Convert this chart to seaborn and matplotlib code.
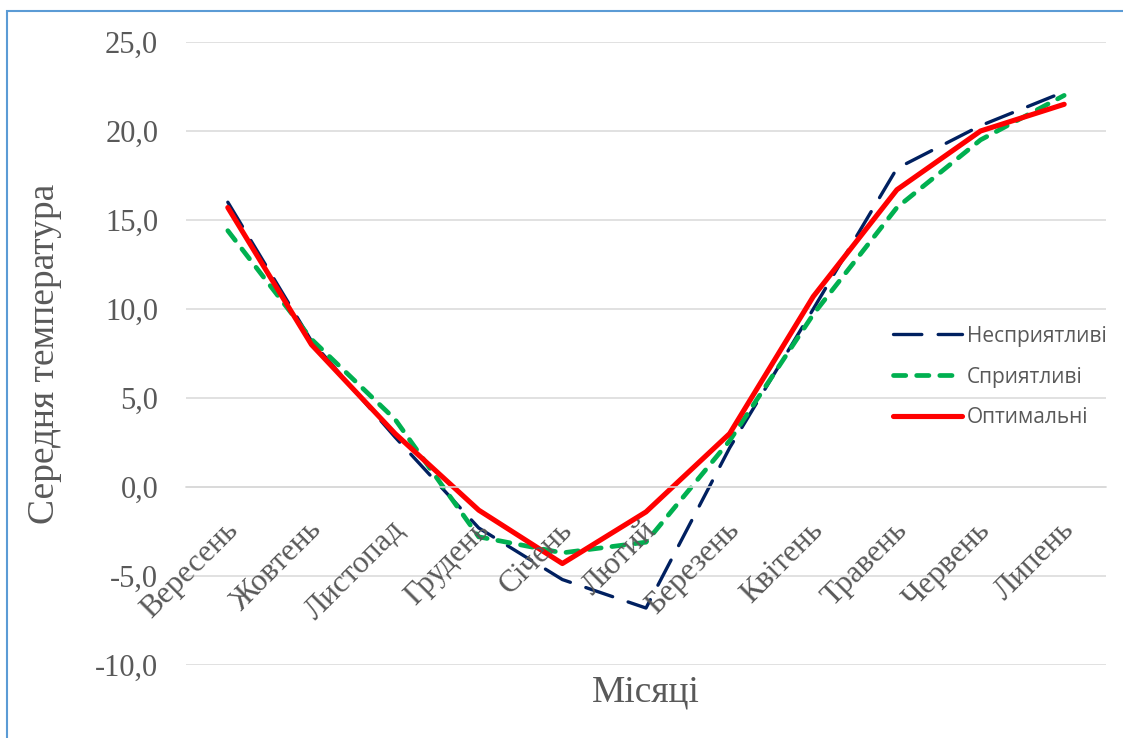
import numpy as np
import pandas as pd
import matplotlib
matplotlib.use("Agg")
import matplotlib.pyplot as plt
import matplotlib.transforms as mtransforms
from matplotlib.patches import Rectangle
from matplotlib.ticker import FixedLocator, FuncFormatter
import seaborn as sns

# Monthly mean temperature for three kinds of years
months = ["Вересень", "Жовтень", "Листопад", "Грудень", "Січень", "Лютий",
          "Березень", "Квітень", "Травень", "Червень", "Липень"]
unfavorable = [16.0, 8.2, 2.8, -2.3, -5.2, -6.8, 2.2, 10.0, 17.9, 20.3, 22.2]
favorable = [14.4, 8.3, 3.8, -2.8, -3.7, -3.1, 2.6, 9.7, 15.7, 19.5, 22.0]
optimal = [15.7, 8.0, 3.0, -1.3, -4.3, -1.4, 3.0, 10.7, 16.7, 20.0, 21.5]
series_names = ["Несприятливі", "Сприятливі", "Оптимальні"]
y_ticks = [-10, -5, 0, 5, 10, 15, 20, 25]

sns.set_theme(style="white")
plt.rcParams["font.family"] = ["Liberation Serif", "DejaVu Serif"]

W, H = 1123, 738
fig = plt.figure(figsize=(W / 100, H / 100), dpi=100)
ax = fig.add_axes([186 / W, 1 - 665 / H, (1106 - 186) / W, (665 - 42) / H])

pos = np.arange(len(months))
text_grey = "#595959"
grid_grey = "#d9d9d9"

styles = [
    dict(color="#002060", linewidth=2.4, linestyle=(0, (8.5, 4.9))),
    dict(color="#00B050", linewidth=3.4, linestyle=(0, (2.6, 2.3))),
    dict(color="#FF0000", linewidth=3.7, linestyle="-"),
]
for name, vals, st in zip(series_names, [unfavorable, favorable, optimal], styles):
    sns.lineplot(x=pos, y=vals, ax=ax, label=name, dash_capstyle="round",
                 solid_capstyle="round", solid_joinstyle="round", **st)

ax.set_xlim(-0.5, len(months) - 0.5)
ax.set_ylim(-10, 25)

# Horizontal grid
ax.yaxis.set_major_locator(FixedLocator(y_ticks))
ax.yaxis.set_major_formatter(FuncFormatter(lambda v, p: f"{v:.1f}".replace(".", ",")))
ax.grid(axis="y", color=grid_grey, linewidth=1.1)
ax.grid(axis="x", visible=False)
ax.set_axisbelow(True)
ax.tick_params(axis="y", length=0, pad=20, labelsize=22, labelcolor=text_grey)

# Category axis crossing at zero
for s in ["top", "right", "left"]:
    ax.spines[s].set_visible(False)
ax.spines["bottom"].set_position(("data", 0))
ax.spines["bottom"].set_color(grid_grey)
ax.spines["bottom"].set_linewidth(1.1)
ax.set_xticks(pos)
ax.set_xticklabels([])
ax.set_xticks(np.arange(-0.5, len(months)), minor=True)
ax.tick_params(axis="x", which="major", length=0)
ax.tick_params(axis="x", which="minor", length=6, width=1.1, color=grid_grey,
               direction="out")

label_shift = mtransforms.ScaledTranslation(0.11, -0.44, fig.dpi_scale_trans)
for i, m in enumerate(months):
    ax.text(i, 0, m, transform=ax.transData + label_shift, rotation=45,
            rotation_mode="anchor", ha="right", va="baseline",
            fontsize=22.5, color=text_grey)

ax.set_xlabel("Місяці", fontsize=27, color=text_grey)
ax.xaxis.set_label_coords(0.5, -0.016)
ax.xaxis.label.set_verticalalignment("top")
ax.set_ylabel("Середня температура", fontsize=27, color=text_grey)
ax.yaxis.label.set_verticalalignment("center")
ax.yaxis.set_label_coords((45 - 186) / 920, 0.5)

leg = ax.legend(loc="center left", bbox_to_anchor=((893 - 186) / 920, (665 - 377) / 623),
                frameon=False, prop={"family": ["Open Sans", "DejaVu Sans"], "size": 15},
                handlelength=3.3, handletextpad=0.25, labelspacing=0.95, borderpad=0,
                borderaxespad=0)
for t in leg.get_texts():
    t.set_color(text_grey)

# Outer chart frame
fig.patches.append(Rectangle((7 / W, -0.5), 2, 1.5 - 11 / H, transform=fig.transFigure,
                             fill=False, edgecolor="#5B9BD5", linewidth=1.5))

fig.savefig("out.png", dpi=100, facecolor="white")
